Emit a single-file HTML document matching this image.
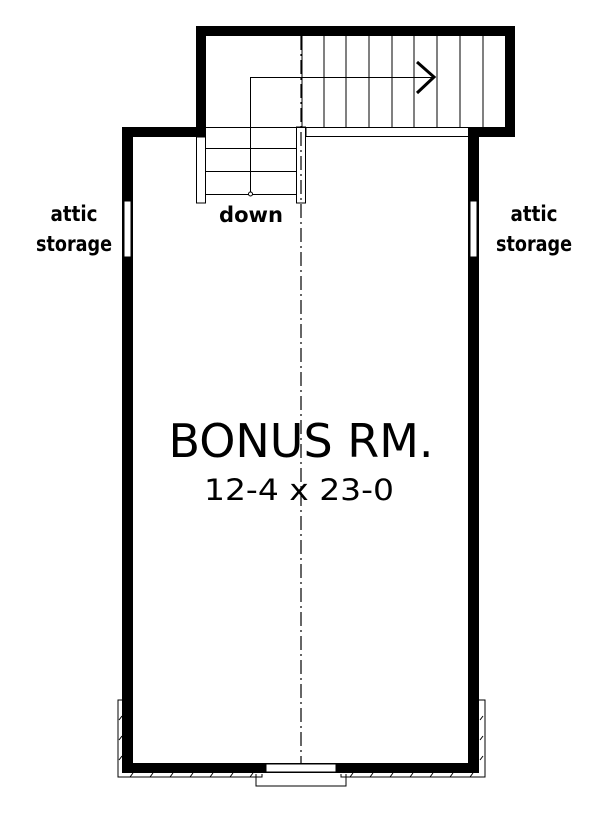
<!DOCTYPE html>
<html><head><style>
body{margin:0;background:#fff;}
svg{display:block;}
text{font-family:"DejaVu Sans","Liberation Sans",sans-serif;fill:#000;}
</style></head><body>
<svg width="600" height="821" viewBox="0 0 600 821" xmlns="http://www.w3.org/2000/svg">
<rect x="196" y="26" width="319" height="10" fill="#000"/>
<rect x="196" y="26" width="10" height="111" fill="#000"/>
<rect x="505" y="26" width="10" height="111" fill="#000"/>
<rect x="469" y="127" width="46" height="10" fill="#000"/>
<rect x="122" y="127" width="84" height="10" fill="#000"/>
<rect x="122" y="127" width="11" height="646" fill="#000"/>
<rect x="468" y="127" width="11" height="646" fill="#000"/>
<rect x="122" y="763" width="357" height="10" fill="#000"/>
<rect x="124" y="201" width="7" height="56" fill="#fff" stroke="#000" stroke-width="1"/>
<rect x="470" y="201" width="7" height="56" fill="#fff" stroke="#000" stroke-width="1"/>
<rect x="266" y="764" width="70" height="8" fill="#fff" stroke="#000" stroke-width="1"/>
<path d="M256 774 V786 H346 V774" fill="none" stroke="#000" stroke-width="1"/>
<g fill="none" stroke="#000" stroke-width="1">
<path d="M123 700 H118 V777 H262 V774"/>
<path d="M478 700 H485 V777 H341 V774"/>
<path d="M119 720 l3 -4 M119 740 l3 -4 M119 760 l3 -4 M130 777 l3 -4 M150 777 l3 -4 M170 777 l3 -4 M190 777 l3 -4 M210 777 l3 -4 M230 777 l3 -4 M250 777 l3 -4
M480 720 l3 -4 M480 740 l3 -4 M480 760 l3 -4 M350 777 l3 -4 M370 777 l3 -4 M390 777 l3 -4 M410 777 l3 -4 M430 777 l3 -4 M450 777 l3 -4 M470 777 l3 -4"/>
</g>
<g fill="none" stroke="#000" stroke-width="1">
<rect x="196.5" y="137" width="9" height="66" fill="#fff"/>
<rect x="296.5" y="127" width="9" height="76" fill="#fff"/>
<path d="M206 127.5 H469 M306 136.5 H469 M306 136 V127"/>
<path d="M206 148.5 H296 M206 171.5 H296 M206 194.5 H296"/>
<path d="M302 36 V127 M324 36 V127 M346 36 V127 M369 36 V127 M392 36 V127 M414 36 V127 M437 36 V127 M460 36 V127 M483 36 V127"/>
<path d="M250.5 194 V77.5 H435"/>
<circle cx="250.5" cy="194" r="2" fill="#fff"/>
</g>
<path d="M417 62 L434 77 L417 93" fill="none" stroke="#000" stroke-width="3"/>
<line x1="301" y1="36" x2="301" y2="763" stroke="#000" stroke-width="1.2" stroke-dasharray="14,4,2,4"/>
<g font-weight="bold">
<text x="74" y="221" font-size="21" text-anchor="middle" textLength="47" lengthAdjust="spacingAndGlyphs">attic</text>
<text x="74" y="251" font-size="21" text-anchor="middle" textLength="76" lengthAdjust="spacingAndGlyphs">storage</text>
<text x="534" y="221" font-size="21" text-anchor="middle" textLength="47" lengthAdjust="spacingAndGlyphs">attic</text>
<text x="534" y="251" font-size="21" text-anchor="middle" textLength="76" lengthAdjust="spacingAndGlyphs">storage</text>
<text x="251" y="222" font-size="21" text-anchor="middle" textLength="64" lengthAdjust="spacingAndGlyphs">down</text>
</g>
<text x="301" y="457" font-size="46" text-anchor="middle" font-family="Liberation Sans" textLength="265" lengthAdjust="spacingAndGlyphs">BONUS RM.</text>
<text x="299" y="500" font-size="29" text-anchor="middle" textLength="190" lengthAdjust="spacingAndGlyphs">12-4 x 23-0</text>
</svg>
</body></html>
